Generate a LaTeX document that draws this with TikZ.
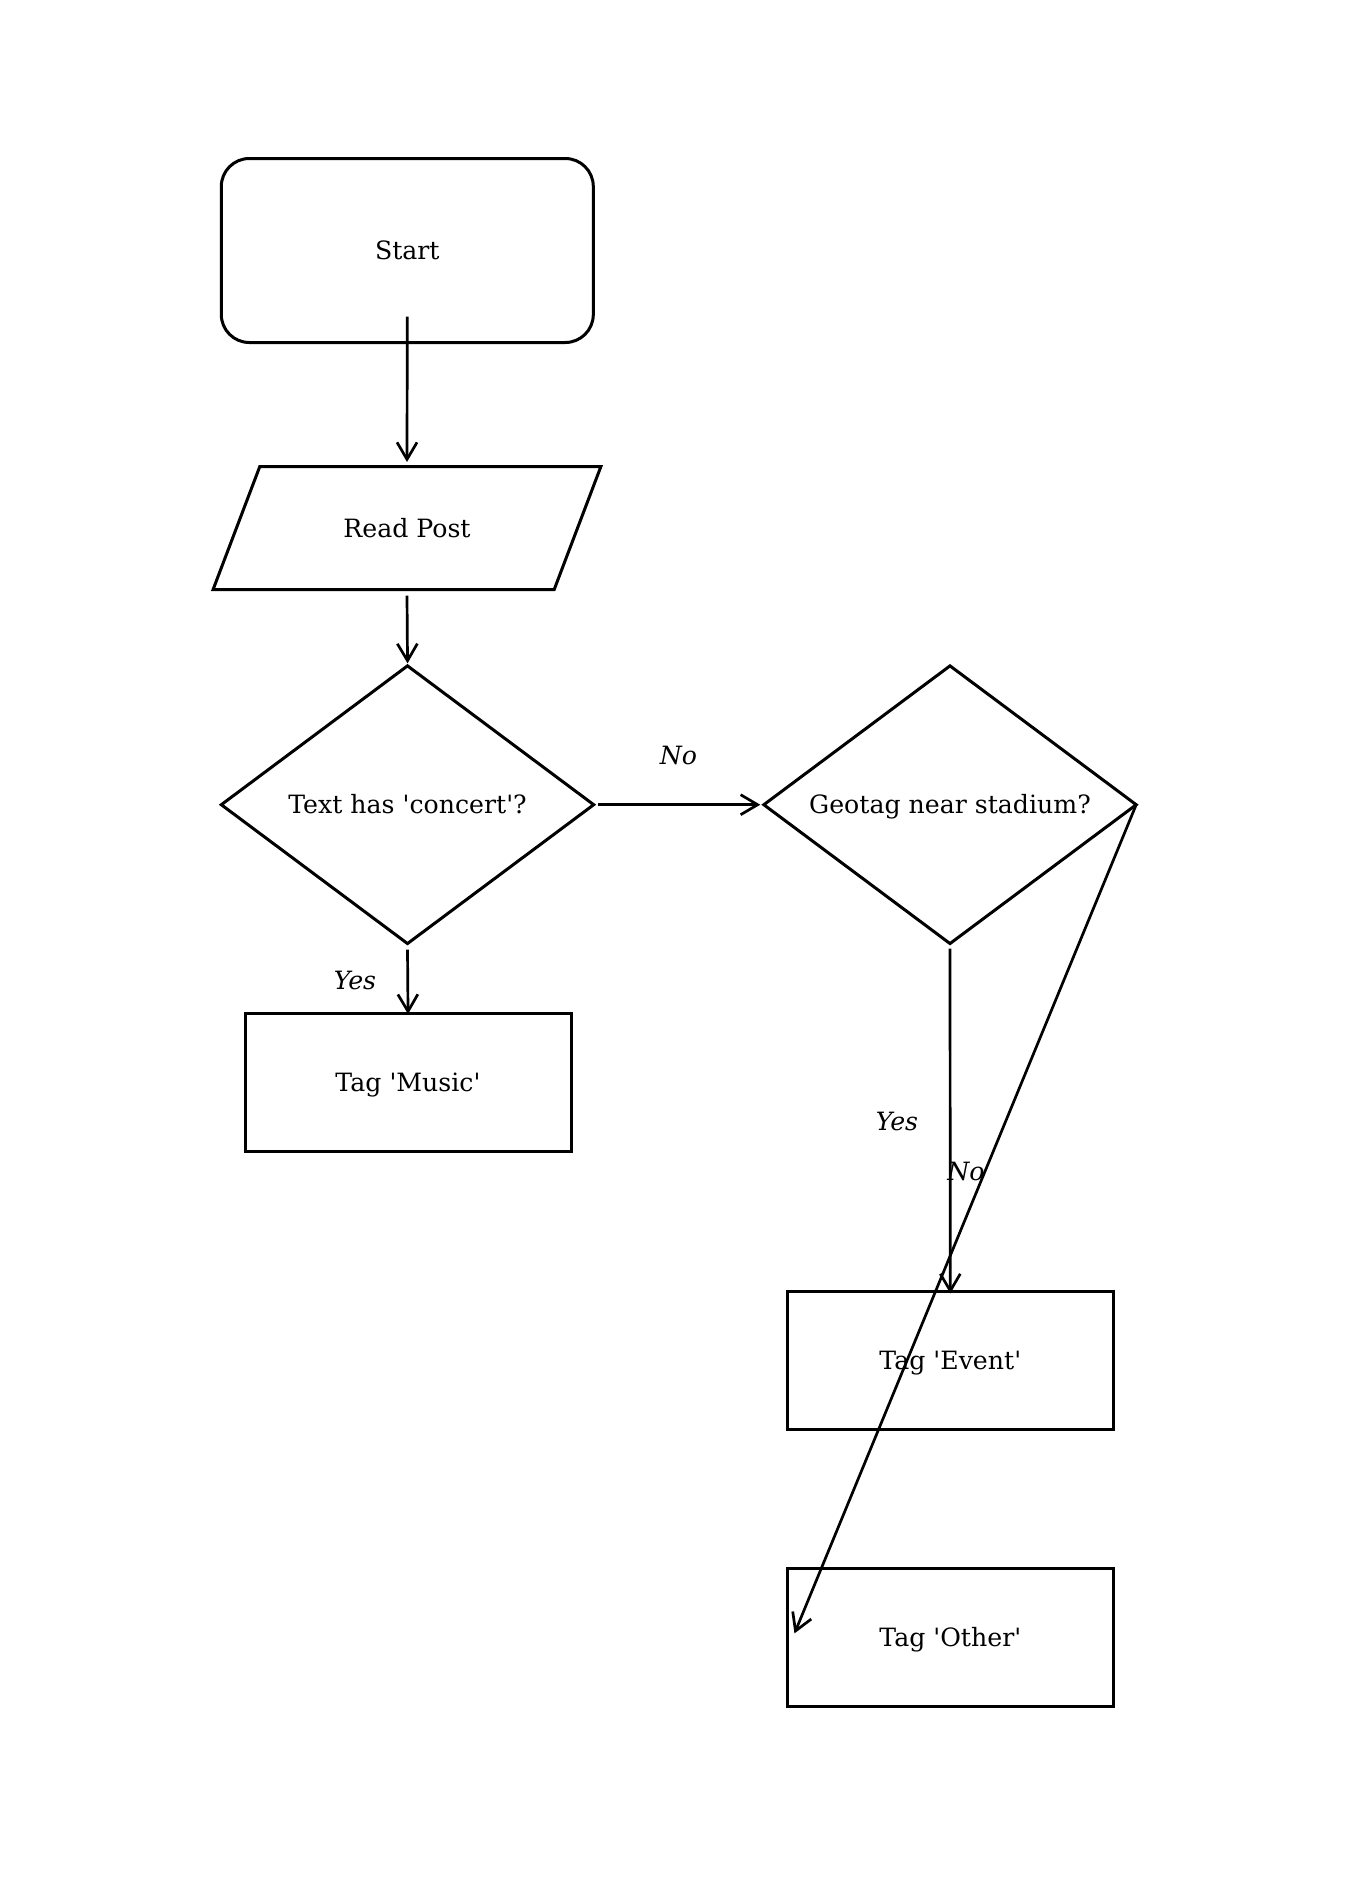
\documentclass[tikz,border=0pt]{standalone}
\usepackage{fontspec}
\newfontfamily\dvs{DejaVu Serif}
\usetikzlibrary{arrows.meta}
\begin{document}
\begin{tikzpicture}[x=1pt,y=-1pt,
  every node/.style={font=\dvs\fontsize{25.2}{30}\selectfont, text height=20.2pt, text depth=2pt},
  shp/.style={line width=3pt, line join=miter},
  box/.style={draw, line width=3pt, minimum width=326pt, minimum height=138pt, inner sep=0pt},
  ghost/.style={inner sep=0pt},
  arr/.style={line width=2.7pt, shorten >=-3.5pt, -{Straight Barb[length=17pt,width=20pt]}},
  lbl/.style={font=\dvs\itshape\fontsize{25.2}{30}\selectfont, inner sep=0pt, text height=, text depth=}]
\useasboundingbox (0,0) rectangle (1357,1888);

\node[draw, line width=3pt, rounded corners=28pt, minimum width=372pt, minimum height=184pt, inner sep=0pt] (start) at (407.3,250.5) {Start};

\node[ghost, minimum width=387.4pt, minimum height=122.6pt] (read) at (407,528) {Read Post};
\draw[shp] ([xshift=46.7pt]read.north west) -- (read.north east) -- ([xshift=-46.7pt]read.south east) -- (read.south west) -- cycle;

\node[ghost, minimum width=372pt, minimum height=277.3pt] (d1) at (407.5,804.7) {Text has 'concert'?};
\draw[shp] (d1.north) -- (d1.east) -- (d1.south) -- (d1.west) -- cycle;

\node[ghost, minimum width=372pt, minimum height=277.3pt] (d2) at (950,804.7) {Geotag near stadium?};
\draw[shp] (d2.north) -- (d2.east) -- (d2.south) -- (d2.west) -- cycle;

\node[box] (music) at (408,1082.5) {Tag 'Music'};
\node[box] (event) at (950.3,1360.5) {Tag 'Event'};
\node[box] (other) at (950.3,1637.2) {Tag 'Other'};

\draw[arr] ([yshift=-66pt]start.center) -- ([yshift=8pt]read.north);
\draw[arr] ([yshift=-6pt]read.south) -- ([yshift=6pt]d1.north);
\draw[arr] ([yshift=-6pt]d1.south) -- ([yshift=1.5pt]music.north);
\draw[arr] ([xshift=4.5pt]d1.east) -- ([xshift=-7pt]d2.west);
\draw[arr] ([yshift=-5pt]d2.south) -- (event.north);
\draw[arr] (d2.east) -- ([xshift=10pt,yshift=7pt]other.west);

\node[lbl] (l1) at (678.5,755) {No};
\node[lbl] (l2) at (355,980) {Yes};
\node[lbl] (l3) at (897,1121) {Yes};
\node[lbl] (l4) at (966,1171) {No};
\end{tikzpicture}
\end{document}
